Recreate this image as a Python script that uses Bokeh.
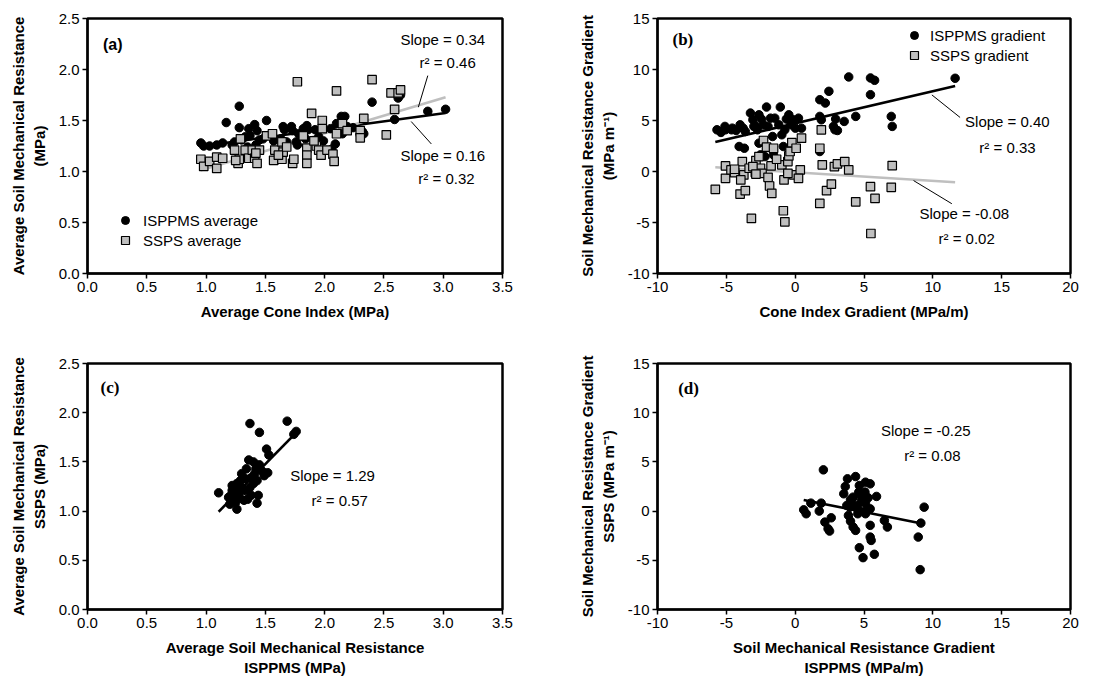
import numpy as np
from bokeh.plotting import figure
from bokeh.layouts import column, row
from bokeh.models import (Range1d, SingleIntervalTicker, PrintfTickFormatter, Label,
                          Legend, LegendItem)
from bokeh.embed import file_html
from bokeh.resources import INLINE

# ---------------- data ----------------
# (a) average soil mechanical resistance vs average cone index
a_isppms_x = [0.956, 0.98, 1.03, 1.09, 1.14, 1.17, 1.28, 1.28, 1.30, 1.36, 1.37, 1.41, 1.43, 1.45,
              1.51, 1.35, 1.42, 1.57, 1.59, 1.65, 1.66, 1.63, 1.68, 1.73, 1.76, 1.78, 1.82, 1.85,
              1.86, 1.84, 1.92, 1.95, 1.99, 2.05, 2.06, 2.10, 2.14, 2.17, 2.15, 2.19, 2.32, 2.33,
              2.40, 2.59, 2.62, 2.64, 2.87, 3.02, 1.22, 1.24, 1.48, 1.72, 1.77, 2.24, 2.09, 2.30, 1.33]
a_isppms_y = [1.28, 1.25, 1.25, 1.26, 1.28, 1.48, 1.64, 1.43, 1.31, 1.42, 1.35, 1.46, 1.40, 1.31,
              1.50, 1.24, 1.26, 1.30, 1.11, 1.44, 1.41, 1.32, 1.29, 1.40, 1.29, 1.37, 1.42, 1.45,
              1.41, 1.32, 1.41, 1.34, 1.30, 1.42, 1.22, 1.47, 1.54, 1.54, 1.37, 1.44, 1.39, 1.37,
              1.68, 1.51, 1.72, 1.75, 1.59, 1.61, 1.26, 1.29, 1.32, 1.44, 1.26, 1.43, 1.27, 1.36, 1.34]
a_ssps_x = [0.956, 0.98, 1.03, 1.09, 1.09, 1.14, 1.24, 1.27, 1.28, 1.29, 1.33, 1.36, 1.39, 1.41,
            1.43, 1.45, 1.42, 1.51, 1.56, 1.57, 1.58, 1.64, 1.65, 1.64, 1.68, 1.73, 1.74, 1.77,
            1.82, 1.85, 1.85, 1.85, 1.89, 1.93, 1.95, 1.97, 1.98, 2.02, 1.98, 2.07, 2.08, 2.10,
            2.10, 2.15, 2.19, 2.30, 2.30, 2.33, 2.40, 2.52, 2.56, 2.59, 2.62, 2.64, 1.91, 1.25, 1.61]
a_ssps_y = [1.12, 1.05, 1.10, 1.14, 1.03, 1.13, 1.21, 1.08, 1.12, 1.32, 1.21, 1.13, 1.21, 1.13,
            1.08, 1.21, 1.18, 1.35, 1.37, 1.11, 1.21, 1.12, 1.19, 1.29, 1.24, 1.08, 1.12, 1.88,
            1.35, 1.23, 1.16, 1.08, 1.57, 1.25, 1.21, 1.16, 1.50, 1.21, 1.42, 1.17, 1.10, 1.79,
            1.37, 1.47, 1.40, 1.40, 1.33, 1.52, 1.90, 1.36, 1.77, 1.61, 1.77, 1.80, 1.30, 1.11, 1.16]
a_fit_isppms = (1.097, 0.158)   # intercept, slope as drawn
a_fit_ssps = (0.68, 0.347)

# (b) gradients
b_isppms_x = [-5.68, -5.39, -5.10, -5.06, -4.57, -4.29, -4.00, -3.78, -3.62, -4.07, -3.69, -3.25,
              -3.07, -2.89, -2.74, -2.63, -2.45, -2.30, -2.08, -1.97, -1.79, -1.64, -1.48, -1.08,
              -0.97, -0.86, -0.64, -0.46, -0.31, -0.15, 0.02, 0.24, 0.46, -2.52, -2.19, -1.57,
              -2.63, 1.79, 2.19, 1.79, 1.90, 1.79, 2.45, 2.78, 2.89, 2.94, 3.07, 3.56, 4.40, 3.89,
              5.47, 5.77, 5.47, 6.98, 7.05, 11.62, -4.62, -1.19, -3.00, -0.75]
b_isppms_y = [4.09, 3.83, 4.42, 4.09, 4.25, 4.02, 4.58, 4.25, 3.92, 2.45, 2.28, 5.73,
              5.07, 4.48, 4.09, 5.56, 5.14, 4.58, 6.32, 4.42, 5.23, 3.43, 5.23, 6.32,
              3.60, 2.45, 5.14, 5.56, 4.58, 5.07, 4.25, 5.23, 4.25, 1.63, 1.46, 1.63,
              2.78, 7.04, 6.71, 5.40, 5.07, 1.96, 7.86, 4.42, 4.09, 5.14, 4.02, 4.91, 5.40, 9.27,
              9.17, 8.94, 7.53, 5.40, 4.42, 9.14, 4.09, 4.58, 4.42, 4.09]
b_ssps_x = [-5.80, -5.06, -5.06, -4.66, -4.40, -4.00, -3.84, -3.62, -3.73, -3.95, -3.34, -3.18,
            -2.85, -2.89, -2.63, -2.52, -2.30, -2.08, -2.41, -1.97, -1.86, -1.70, -1.57, -1.75,
            -0.97, -0.81, -0.86, -0.75, -0.53, -0.46, -0.37, -0.24, -0.09, 0.07, 0.37, 0.24,
            0.46, 1.90, 1.79, 1.97, 1.79, 2.28, 2.63, 2.85, 3.07, 3.60, 3.89, 4.40, 5.47, 5.80,
            5.50, 6.98, 7.05, -3.07, -1.35, -0.53, -4.40, -2.85]
b_ssps_y = [-1.75, 0.55, -0.67, 0.15, -0.11, -2.21, 0.97, -1.88, -0.34, -0.83, 0.32, -4.60,
            1.07, -0.11, 1.46, 0.32, 3.04, 2.38, -0.18, -0.57, -1.42, -2.14, 2.28, 0.55,
            0.65, -0.83, -3.85, -4.93, 0.97, 1.53, 1.96, 2.84, -0.34, 2.28, 0.15, -0.67,
            3.27, 4.09, 2.28, 0.65, -3.13, -1.88, -1.23, 0.48, 0.74, 0.97, 0.15, -2.97, -1.49, -2.64,
            -6.08, -1.55, 0.58, 0.48, 1.20, -0.18, 0.22, -0.25]
b_fit_isppms = (4.72, 0.316)
b_fit_ssps = (-0.075, -0.084)

# (c) SSPS vs ISPPMS average
c_x = [1.106, 1.37, 1.45, 1.684, 1.74, 1.76, 1.51, 1.53, 1.36, 1.40, 1.45, 1.42, 1.47, 1.52,
       1.30, 1.33, 1.38, 1.43, 1.49, 1.22, 1.24, 1.26, 1.28, 1.30, 1.37, 1.38, 1.44, 1.43,
       1.21, 1.23, 1.25, 1.26, 1.20, 1.32, 1.35, 1.29, 1.34, 1.41, 1.28, 1.22, 1.19, 1.33, 1.40]
c_y = [1.186, 1.89, 1.80, 1.914, 1.78, 1.81, 1.63, 1.57, 1.52, 1.50, 1.47, 1.43, 1.41, 1.39,
       1.38, 1.33, 1.34, 1.31, 1.36, 1.26, 1.21, 1.28, 1.19, 1.24, 1.24, 1.16, 1.16, 1.08,
       1.16, 1.12, 1.09, 1.02, 1.07, 1.11, 1.12, 1.31, 1.43, 1.38, 1.14, 1.21, 1.14, 1.21, 1.28]
c_fit = (-0.366, 1.229)

# (d) SSPS gradient vs ISPPMS gradient
d_x = [2.05, 0.62, 0.80, 1.14, 1.75, 1.89, 2.16, 2.39, 2.50, 2.62, 3.80, 4.39, 3.64, 3.53,
       5.11, 5.45, 4.66, 4.62, 4.02, 4.21, 3.75, 4.43, 4.77, 5.11, 5.30, 5.91, 5.19, 5.45,
       4.55, 5.11, 3.87, 4.02, 4.21, 4.39, 5.45, 5.45, 5.52, 4.66, 4.93, 5.75, 6.48, 6.70,
       8.94, 9.08, 9.13, 9.37, 3.98, 5.07, 4.21, 4.84, 4.66]
d_y = [4.19, 0.13, -0.27, 0.81, 0.00, 0.81, -1.12, -1.79, -2.03, -0.68, 3.28, 3.51, 2.50, 1.76,
       2.94, 2.77, 2.60, 1.93, 1.15, 0.67, 0.57, 0.34, 0.91, 0.81, 1.35, 1.49, 0.13, 0.23,
       -0.27, -0.27, -0.44, -1.02, -1.62, -1.96, -1.45, -2.64, -2.98, -3.72, -4.73, -4.39, -0.95, -1.62,
       -2.64, -5.95, -1.22, 0.40, 0.40, 1.93, 1.42, 1.42, 0.06]
d_fit = (1.31, -0.28)

FONT = "Liberation Sans"
SERIF = "Liberation Serif"
GRAY = "#bfbfbf"


def make_fig(xr, yr, xint, yint, fmt, xlabel, ylabel, w, h, bl, br, bt, bb):
    p = figure(width=w, height=h, x_range=Range1d(*xr), y_range=Range1d(*yr),
               output_backend="svg", toolbar_location=None,
               min_border_left=bl, min_border_right=br, min_border_top=bt, min_border_bottom=bb)
    p.xgrid.visible = False
    p.ygrid.visible = False
    p.outline_line_color = "black"
    p.outline_line_width = 2.5
    p.outline_line_alpha = 1.0
    p.background_fill_color = "white"
    p.border_fill_color = "white"
    p.xaxis.ticker = SingleIntervalTicker(interval=xint, num_minor_ticks=0)
    p.yaxis.ticker = SingleIntervalTicker(interval=yint, num_minor_ticks=0)
    p.xaxis.formatter = PrintfTickFormatter(format=fmt)
    p.yaxis.formatter = PrintfTickFormatter(format=fmt)
    p.xaxis.axis_label = xlabel
    p.yaxis.axis_label = ylabel
    for ax in (p.xaxis[0], p.yaxis[0]):
        ax.axis_line_width = 2
        ax.axis_line_color = "black"
        ax.major_tick_out = 5
        ax.major_tick_in = 0
        ax.major_tick_line_width = 1.5
        ax.major_tick_line_color = "black"
        ax.minor_tick_line_color = None
        ax.major_label_text_font = FONT
        ax.major_label_text_font_size = "15px"
        ax.major_label_text_color = "black"
        ax.major_label_standoff = 3
        ax.axis_label_text_font = FONT
        ax.axis_label_text_font_size = "15px"
        ax.axis_label_text_font_style = "bold"
        ax.axis_label_text_color = "black"
    p.xaxis.axis_label_standoff = 8
    p.yaxis.axis_label_standoff = 8
    return p


def fit_line(p, xs, fit, color):
    x0, x1 = min(xs), max(xs)
    xx = np.array([x0, x1])
    yy = fit[0] + fit[1] * xx
    p.line(xx, yy, line_color=color, line_width=2.6)


def add_text(p, x, y, txt, size="15px", font=FONT, style="normal"):
    p.add_layout(Label(x=x, y=y, text=txt, text_font=font, text_font_size=size,
                       text_font_style=style, text_color="black",
                       text_align="left", text_baseline="middle"))


def leader(p, x0, y0, x1, y1):
    p.segment(x0=[x0], y0=[y0], x1=[x1], y1=[y1], line_color="black", line_width=1)


def style_legend(lg):
    lg.border_line_color = None
    lg.background_fill_alpha = 0
    lg.padding = 0
    lg.margin = 0
    lg.spacing = 0
    lg.glyph_width = 20
    lg.glyph_height = 20
    lg.label_height = 20
    lg.label_standoff = 8
    lg.label_text_font = FONT
    lg.label_text_font_size = "15px"
    lg.label_text_color = "black"


MS = 8.5

# ---- panel (a)
pa = make_fig((0, 3.5), (0, 2.5), 0.5, 0.5, "%.1f",
              "Average Cone Index (MPa)", "Average Soil Mechanical Resistance\n(MPa)",
              560, 340, 87, 58, 18, 67)
all_ax = a_isppms_x + a_ssps_x
fit_line(pa, all_ax, a_fit_isppms, "black")
fit_line(pa, all_ax, a_fit_ssps, GRAY)
ra1 = pa.scatter(a_isppms_x, a_isppms_y, marker="circle", size=MS, fill_color="black", line_color="black")
ra2 = pa.scatter(a_ssps_x, a_ssps_y, marker="square", size=MS, fill_color=GRAY, line_color="black", line_width=1.2)
leader(pa, 2.87, 1.94, 2.79, 1.63)
leader(pa, 2.73, 1.49, 2.90, 1.27)
add_text(pa, 2.64, 2.29, "Slope = 0.34")
add_text(pa, 2.80, 2.07, "r² = 0.46")
add_text(pa, 2.64, 1.16, "Slope = 0.16")
add_text(pa, 2.79, 0.93, "r² = 0.32")
add_text(pa, 0.13, 2.25, "(a)", size="16px", style="bold")
lga = Legend(items=[LegendItem(label="ISPPMS average", renderers=[ra1]),
                    LegendItem(label="SSPS average", renderers=[ra2])], location=(28, 23))
style_legend(lga)
pa.add_layout(lga)

# ---- panel (b)
pb = make_fig((-10, 20), (-10, 15), 5, 5, "%d",
              "Cone Index Gradient (MPa/m)", "Soil Mechanical Resistance Gradient\n(MPa m⁻¹)",
              559, 340, 97, 49, 18, 67)
all_bx = b_isppms_x + b_ssps_x
fit_line(pb, all_bx, b_fit_isppms, "black")
fit_line(pb, all_bx, b_fit_ssps, GRAY)
rb1 = pb.scatter(b_isppms_x, b_isppms_y, marker="circle", size=MS, fill_color="black", line_color="black")
rb2 = pb.scatter(b_ssps_x, b_ssps_y, marker="square", size=MS, fill_color=GRAY, line_color="black", line_width=1.2)
leader(pb, 9.93, 7.51, 11.98, 5.30)
leader(pb, 8.60, -0.89, 11.38, -3.16)
add_text(pb, 12.34, 4.91, "Slope = 0.40")
add_text(pb, 13.38, 2.37, "r² = 0.33")
add_text(pb, 9.03, -4.08, "Slope = -0.08")
add_text(pb, 10.41, -6.58, "r² = 0.02")
add_text(pb, -8.91, 12.95, "(b)", size="17px", font=SERIF, style="bold")
lgb = Legend(items=[LegendItem(label="ISPPMS gradient", renderers=[rb1]),
                    LegendItem(label="SSPS gradient", renderers=[rb2])], location=(247, 208))
style_legend(lgb)
lgb.label_standoff = 6
pb.add_layout(lgb)

# ---- panel (c)
pc = make_fig((0, 3.5), (0, 2.5), 0.5, 0.5, "%.1f",
              "Average Soil Mechanical Resistance\nISPPMS (MPa)",
              "Average Soil Mechanical Resistance\nSSPS (MPa)",
              560, 343, 87, 58, 23, 74)
fit_line(pc, c_x, c_fit, "black")
pc.scatter(c_x, c_y, marker="circle", size=MS, fill_color="black", line_color="black")
add_text(pc, 1.71, 1.365, "Slope = 1.29")
add_text(pc, 1.89, 1.11, "r² = 0.57")
add_text(pc, 0.11, 2.26, "(c)", size="17px", font=SERIF, style="bold")

# ---- panel (d)
pd_ = make_fig((-10, 20), (-10, 15), 5, 5, "%d",
               "Soil Mechanical Resistance Gradient\nISPPMS (MPa/m)",
               "Soil Mechanical Resistance Gradient\nSSPS (MPa m⁻¹)",
               559, 343, 97, 49, 23, 74)
fit_line(pd_, d_x, d_fit, "black")
pd_.scatter(d_x, d_y, marker="circle", size=MS, fill_color="black", line_color="black")
add_text(pd_, 6.23, 8.18, "Slope = -0.25")
add_text(pd_, 7.92, 5.64, "r² = 0.08")
add_text(pd_, -8.50, 12.47, "(d)", size="17px", font=SERIF, style="bold")

layout = column(row(pa, pb), row(pc, pd_))
open("out.html", "w").write(file_html(layout, INLINE))
